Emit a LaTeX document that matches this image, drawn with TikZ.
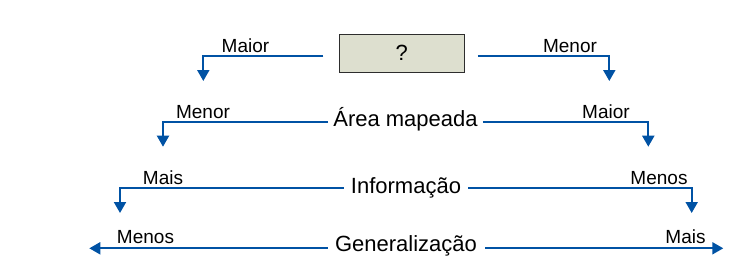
\documentclass[tikz,border=0pt]{standalone}
\usepackage{fontspec}
\setmainfont{Liberation Sans}
\usetikzlibrary{arrows.meta}
\definecolor{arrowblue}{RGB}{0,82,164}
\definecolor{boxfill}{RGB}{221,223,207}
\definecolor{boxline}{RGB}{45,45,45}
\tikzset{
  conn/.style={draw=arrowblue, line width=2pt, -{Triangle[width=12pt,length=11pt]}},
  maintext/.style={anchor=base, inner sep=0pt, font=\fontsize{22}{26}\selectfont},
  lbl/.style={anchor=base, inner sep=0pt, font=\fontsize{19}{23}\selectfont},
  qbox/.style={draw=boxline, fill=boxfill, line width=1.2pt, minimum width=125pt, minimum height=38pt, inner sep=0pt, font=\fontsize{22}{26}\selectfont}
}
\begin{document}
\begin{tikzpicture}[x=1pt,y=-1pt]
\useasboundingbox (0,0) rectangle (748,277);
% box
\node[qbox] (q) at (401.8,53.2) {?};
% main texts
\node[maintext] (area) at (405.5,126.7) {Área mapeada};
\node[maintext] (info) at (406,193.3) {Informação};
\node[maintext] (gen) at (406,251.7) {Generalização};
% coordinates
\coordinate (c1l) at (203.3,55.7);  \coordinate (t1l) at (203.3,81);
\coordinate (c1r) at (609.3,55.7);  \coordinate (t1r) at (609.3,81);
\coordinate (c2l) at (163,121.7);   \coordinate (t2l) at (163,146.7);
\coordinate (c2r) at (648.3,121.7); \coordinate (t2r) at (648.3,146.7);
\coordinate (c3l) at (120,188.3);   \coordinate (t3l) at (120,213);
\coordinate (c3r) at (691.7,188.3); \coordinate (t3r) at (691.7,213);
\coordinate (t4l) at (89.3,248.3);  \coordinate (t4r) at (723.3,248.3);
% connectors
\draw[conn] ([xshift=-15.3pt,yshift=-2.5pt]q.west) -- (c1l) -- (t1l);
\draw[conn] ([xshift=13pt,yshift=-2.5pt]q.east) -- (c1r) -- (t1r);
\draw[conn] ([xshift=-5pt,yshift=5pt]area.base west) -- (c2l) -- (t2l);
\draw[conn] ([xshift=5pt,yshift=5pt]area.base east) -- (c2r) -- (t2r);
\draw[conn] ([xshift=-7pt,yshift=5pt]info.base west) -- (c3l) -- (t3l);
\draw[conn] ([xshift=7pt,yshift=5pt]info.base east) -- (c3r) -- (t3r);
\draw[conn] ([xshift=-7pt,yshift=3.4pt]gen.base west) -- (t4l);
\draw[conn] ([xshift=8pt,yshift=3.4pt]gen.base east) -- (t4r);
% labels
\node[lbl] (l1l) at (245.5,52.7) {Maior};
\node[lbl] (l1r) at (570,52.7) {Menor};
\node[lbl] (l2l) at (203,118.3) {Menor};
\node[lbl] (l2r) at (606,118.3) {Maior};
\node[lbl] (l3l) at (163,184.3) {Mais};
\node[lbl] (l3r) at (659,184.3) {Menos};
\node[lbl] (l4l) at (145.5,243.3) {Menos};
\node[lbl] (l4r) at (685.5,243.3) {Mais};
\end{tikzpicture}
\end{document}
